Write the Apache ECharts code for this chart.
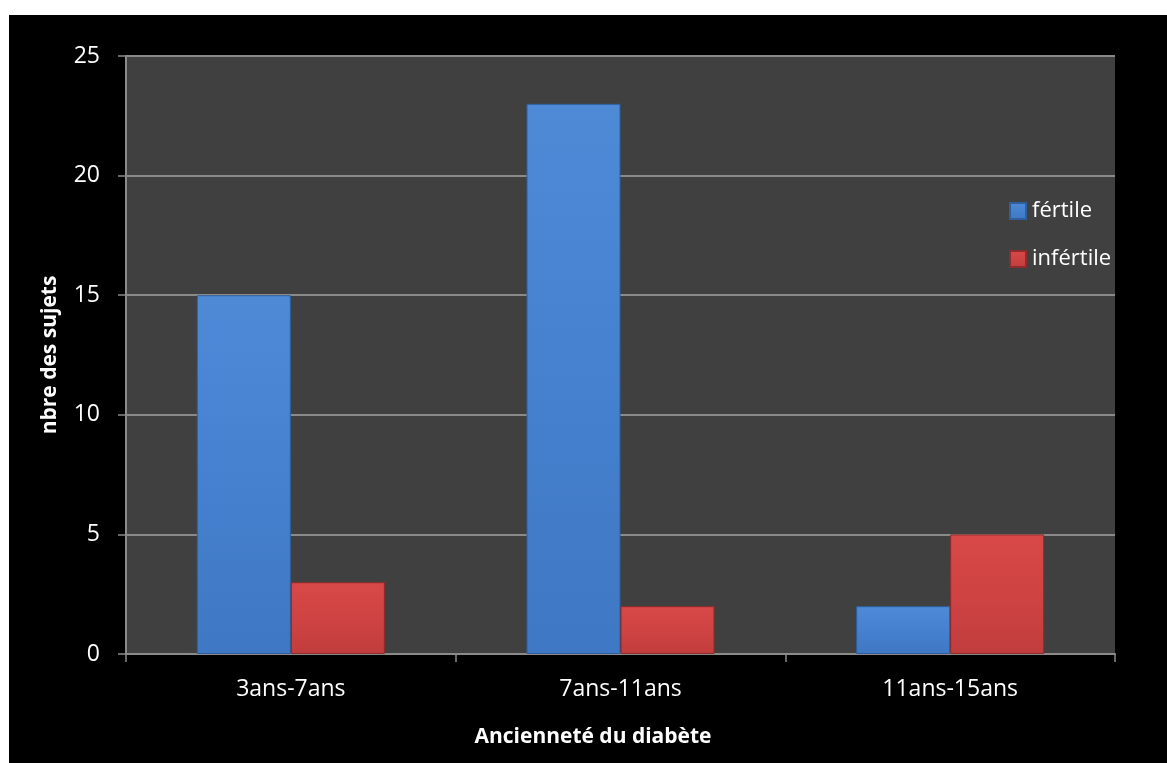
<!DOCTYPE html>
<html>
<head>
<meta charset="utf-8">
<script src="https://cdn.jsdelivr.net/npm/echarts@6/dist/echarts.min.js"></script>
<style>
html,body{margin:0;padding:0;background:#fff;}
#chart{width:1167px;height:763px;}
</style>
</head>
<body>
<div id="chart"></div>
<script>
const categories = ['3ans-7ans', '7ans-11ans', '11ans-15ans'];
const fertile = [15, 23, 2];
const infertile = [3, 2, 5];
const seriesNames = ['fértile', 'infértile'];
const yTicks = { min: 0, max: 25, interval: 5 };
const xTitle = 'Ancienneté du diabète';
const yTitle = 'nbre des sujets';

const FONT = '"Open Sans", sans-serif';
const chart = echarts.init(document.getElementById('chart'));

function grad(top, mid, bottom) {
  return new echarts.graphic.LinearGradient(0, 0, 0, 1, [
    { offset: 0, color: top },
    { offset: 0.5, color: mid },
    { offset: 1, color: bottom }
  ]);
}

chart.setOption({
  animation: false,
  backgroundColor: '#ffffff',
  graphic: [{
    type: 'rect', z: -10, silent: true,
    shape: { x: 9, y: 15, width: 1158, height: 748 },
    style: { fill: '#000000' }
  }],
  grid: {
    left: 126, top: 56, right: 52, bottom: 109,
    show: true, backgroundColor: '#404040', borderWidth: 0
  },
  legend: {
    orient: 'vertical',
    left: 1004, top: 195,
    itemWidth: 16, itemHeight: 16, itemGap: 26,
    icon: 'rect',
    textStyle: { color: '#ffffff', fontSize: 22, fontFamily: FONT, padding: [0, 0, 0, 1] },
    data: seriesNames
  },
  xAxis: {
    type: 'category',
    data: categories,
    name: xTitle,
    nameLocation: 'middle',
    nameGap: 73,
    nameTextStyle: { color: '#ffffff', fontSize: 21, fontWeight: 'bold', fontFamily: FONT, padding: [0, 55, 0, 0] },
    axisLine: { lineStyle: { color: '#8a8a8a', width: 2 } },
    axisTick: { show: true, length: 8, lineStyle: { color: '#8a8a8a', width: 1.5 } },
    axisLabel: { color: '#ffffff', fontSize: 23, fontFamily: FONT, margin: 24 }
  },
  yAxis: {
    type: 'value',
    min: yTicks.min, max: yTicks.max, interval: yTicks.interval,
    name: yTitle,
    nameLocation: 'middle',
    nameGap: 65,
    nameTextStyle: { color: '#ffffff', fontSize: 21, fontWeight: 'bold', fontFamily: FONT },
    axisLine: { show: true, lineStyle: { color: '#8a8a8a', width: 2 } },
    axisTick: { show: true, length: 8, lineStyle: { color: '#8a8a8a', width: 1.5 } },
    axisLabel: { color: '#ffffff', fontSize: 23, fontFamily: FONT, margin: 26 },
    splitLine: { lineStyle: { color: '#8a8a8a', width: 2 } }
  },
  series: [
    {
      name: seriesNames[0], type: 'bar', data: fertile,
      barWidth: 94, barGap: '0%',
      itemStyle: {
        color: grad('#4e8ad6', '#4581cf', '#3f78c4'),
        borderColor: '#2f5f9e', borderWidth: 1
      }
    },
    {
      name: seriesNames[1], type: 'bar', data: infertile,
      barWidth: 94, barGap: '0%',
      itemStyle: {
        color: grad('#d84848', '#cf4343', '#c13d3d'),
        borderColor: '#8f2b2b', borderWidth: 1
      }
    }
  ]
});
</script>
</body>
</html>
